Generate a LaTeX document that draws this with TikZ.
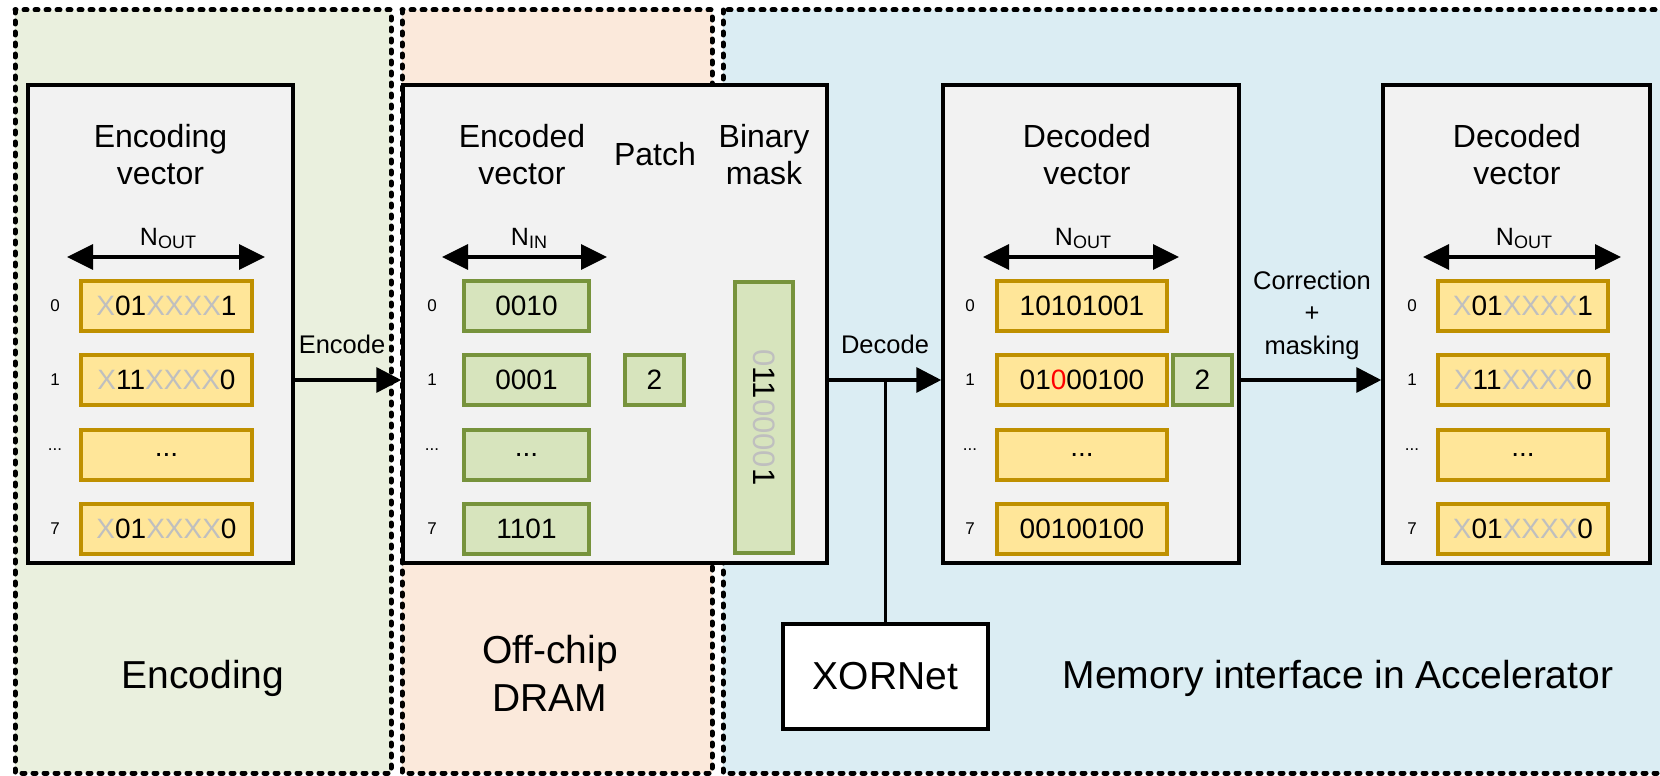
\documentclass[tikz,border=0pt]{standalone}
\usepackage{fontspec}
\setmainfont{Liberation Sans}
\usetikzlibrary{arrows.meta}

\definecolor{encbg}{HTML}{EAF0DE}
\definecolor{drambg}{HTML}{FBE9DB}
\definecolor{accbg}{HTML}{DBEDF3}
\definecolor{panelfill}{HTML}{F2F2F2}
\definecolor{goldfill}{HTML}{FFE699}
\definecolor{golddraw}{HTML}{BF9000}
\definecolor{olivefill}{HTML}{D7E4BD}
\definecolor{olivedraw}{HTML}{77933C}
\definecolor{dontcare}{HTML}{BFBFBF}
\definecolor{flipbit}{HTML}{FF0000}

% don't-care bits are printed in light grey
\newcommand{\dcare}[1]{\textcolor{dontcare}{#1}}
% vector length label with a lowered subscript
\newcommand{\lenlabel}[1]{N\raisebox{-3pt}{\fontsize{18}{18}\selectfont #1}}

\tikzset{
  region/.style={draw=black, line width=5pt, line cap=round,
                 dash pattern=on 3pt off 8pt},
  panel/.style={draw=black, line width=3.5pt, fill=panelfill, inner sep=0pt,
                minimum height=478pt},
  goldcell/.style={draw=golddraw, fill=goldfill, line width=3.5pt, inner sep=0pt,
                   minimum width=171pt, minimum height=50pt,
                   font=\fontsize{28}{28}\selectfont},
  olivecell/.style={draw=olivedraw, fill=olivefill, line width=3.5pt, inner sep=0pt,
                    minimum height=50pt, font=\fontsize{28}{28}\selectfont},
  idx/.style={font=\fontsize{17}{17}\selectfont, inner sep=0pt},
  title/.style={align=center, inner sep=0pt, anchor=north,
                font=\fontsize{32}{37}\selectfont},
  lenlbl/.style={anchor=base, inner sep=0pt, font=\fontsize{25}{25}\selectfont},
  steplbl/.style={inner sep=0pt, align=center, font=\fontsize{25.5}{32.5}\selectfont},
  biglbl/.style={inner sep=0pt, align=center, font=\fontsize{39}{48}\selectfont},
  flow/.style={line width=3.5pt, -{Triangle[length=25pt,width=25pt]}},
  span/.style={line width=3.5pt,
               {Triangle[length=26pt,width=25pt]}-{Triangle[length=26pt,width=25pt]}}
}

\begin{document}
\begin{tikzpicture}[x=1pt,y=-1pt]
\useasboundingbox (0,0) rectangle (1660,776);

% ---- three dashed zones ----
\path[region, fill=encbg]  (15,10)  rectangle (391,773);
\path[region, fill=drambg] (402,10) rectangle (712,773);
\path[region, fill=accbg]  (723,10) rectangle (1680,773);

% ---- zone captions ----
\node[biglbl, anchor=base] (capenc) at (203,688) {Encoding};
\node[biglbl, anchor=north] (capdram) at (550,635.5) {Off-chip\\DRAM};
\node[biglbl, anchor=base] (capacc) at (1338,688) {Memory interface in Accelerator};

% ---- panels ----
\node[panel, minimum width=265pt] (pEnc)  at (160.5,324) {};
\node[panel, minimum width=424pt] (pDram) at (615,324)   {};
\node[panel, minimum width=296pt] (pDec)  at (1091,324)  {};
\node[panel, minimum width=267pt] (pOut)  at (1516.5,324) {};

% ---- panel titles ----
\node[title] (tEnc)   at (160.5,124) {Encoding\\vector};
\node[title] (tCode)  at (522,124)   {Encoded\\vector};
\node[title, anchor=base] (tPatch) at (655,165) {Patch};
\node[title] (tMask)  at (764,124)   {Binary\\mask};
\node[title] (tDec)   at (1087,124)  {Decoded\\vector};
\node[title] (tOut)   at (1517,124)  {Decoded\\vector};

% ---- length labels and span arrows ----
\node[lenlbl] (lEnc) at (168,245)  {\lenlabel{OUT}};
\coordinate (aEncL) at (67,257);   \coordinate (aEncR) at (265,257);
\draw[span] (aEncL) -- (aEncR);

\node[lenlbl] (lCode) at (529,245) {\lenlabel{IN}};
\coordinate (aCodeL) at (442,257); \coordinate (aCodeR) at (607,257);
\draw[span] (aCodeL) -- (aCodeR);

\node[lenlbl] (lDec) at (1083,245) {\lenlabel{OUT}};
\coordinate (aDecL) at (983,257);  \coordinate (aDecR) at (1179,257);
\draw[span] (aDecL) -- (aDecR);

\node[lenlbl] (lOut) at (1524,245) {\lenlabel{OUT}};
\coordinate (aOutL) at (1423,257); \coordinate (aOutR) at (1621,257);
\draw[span] (aOutL) -- (aOutR);

% ---- encoding vector rows ----
\node[idx] (iE0) at (55,306) {0};
\node[idx] (iE1) at (55,380) {1};
\node[idx] (iE2) at (55,450) {...};
\node[idx] (iE7) at (55,529) {7};
\node[goldcell] (e0) at (166.5,306) {\dcare{X}01\dcare{XXXX}1};
\node[goldcell] (e1) at (166.5,380) {\dcare{X}11\dcare{XXXX}0};
\node[goldcell] (e2) at (166.5,455) {...};
\node[goldcell] (e7) at (166.5,529) {\dcare{X}01\dcare{XXXX}0};

% ---- encoded vector, patch and mask ----
\node[idx] (iC0) at (432,306) {0};
\node[idx] (iC1) at (432,380) {1};
\node[idx] (iC2) at (432,450) {...};
\node[idx] (iC7) at (432,529) {7};
\node[olivecell, minimum width=125pt] (c0) at (526.5,306) {0010};
\node[olivecell, minimum width=125pt] (c1) at (526.5,380) {0001};
\node[olivecell, minimum width=125pt] (c2) at (526.5,455) {...};
\node[olivecell, minimum width=125pt] (c7) at (526.5,529) {1101};
\node[olivecell, minimum width=59pt] (patch) at (654.5,380) {2};
\node[olivecell, minimum width=58pt, minimum height=271pt] (mask) at (764,417.5) {};
\node[rotate=-90, inner sep=0pt, font=\fontsize{31}{31}\selectfont] (maskbits)
  at (mask.center) {\dcare{0}11\dcare{0000}1};

% ---- decoded vector ----
\node[idx] (iD0) at (970,306) {0};
\node[idx] (iD1) at (970,380) {1};
\node[idx] (iD2) at (970,450) {...};
\node[idx] (iD7) at (970,529) {7};
\node[goldcell, minimum width=170pt] (d0) at (1082,306) {10101001};
\node[goldcell, minimum width=170pt] (d1) at (1082,380) {01\textcolor{flipbit}{0}00100};
\node[goldcell, minimum width=170pt] (d2) at (1082,455) {...};
\node[goldcell, minimum width=170pt] (d7) at (1082,529) {00100100};
\node[olivecell, minimum width=59pt] (dpatch) at (1202.5,380) {2};

% ---- corrected output vector ----
\node[idx] (iO0) at (1412,306) {0};
\node[idx] (iO1) at (1412,380) {1};
\node[idx] (iO2) at (1412,450) {...};
\node[idx] (iO7) at (1412,529) {7};
\node[goldcell, minimum width=170pt] (o0) at (1523,306) {\dcare{X}01\dcare{XXXX}1};
\node[goldcell, minimum width=170pt] (o1) at (1523,380) {\dcare{X}11\dcare{XXXX}0};
\node[goldcell, minimum width=170pt] (o2) at (1523,455) {...};
\node[goldcell, minimum width=170pt] (o7) at (1523,529) {\dcare{X}01\dcare{XXXX}0};

% ---- XORNet ----
\node[draw=black, line width=3.5pt, fill=white, minimum width=205pt,
      minimum height=105pt, inner sep=0pt, font=\fontsize{39}{39}\selectfont]
      (xor) at (885.5,676.5) {XORNet};

% ---- data flow ----
\draw[flow] (pEnc.east |- e1.center) -- (pDram.west |- e1.center);
\node[steplbl, anchor=base] (lblEncode) at (342,353) {Encode};

\draw[flow] (pDram.east |- c1.center) -- (pDec.west |- c1.center);
\node[steplbl, anchor=base] (lblDecode) at (885,353) {Decode};
\draw[line width=3.5pt] (xor.north) -- (xor.north |- c1.center);

\draw[flow] (pDec.east |- d1.center) -- (pOut.west |- d1.center);
\node[steplbl, anchor=north] (lblFix) at (1312,270.5) {Correction\\+\\masking};

\end{tikzpicture}
\end{document}
